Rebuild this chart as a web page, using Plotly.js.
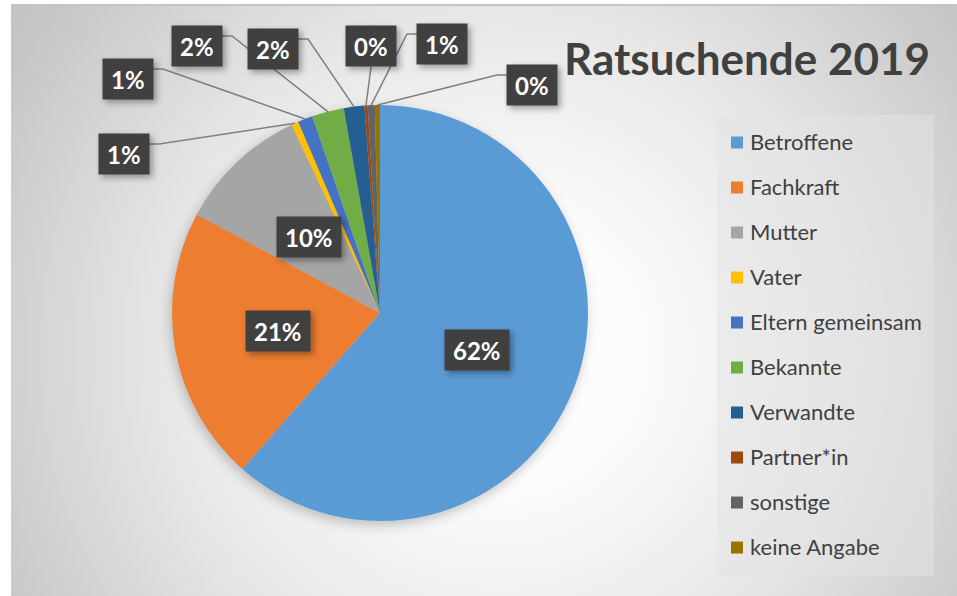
<!DOCTYPE html>
<html><head><meta charset="utf-8">
<script src="https://cdn.plot.ly/plotly-3.0.1.min.js"></script>
<style>
html,body{margin:0;padding:0;background:#fff;width:957px;height:596px;overflow:hidden}
#bg{position:absolute;left:11px;top:4px;width:946px;height:592px;box-sizing:border-box;border-top:2px solid #c4c4c4;
background:radial-gradient(circle at 489px 346px,#ffffff 0px,#fbfbfb 140px,#e8e8e8 330px,#d2d2d2 480px,#c6c6c6 560px,#bdbdbd 680px);}
#chart{position:absolute;left:0;top:0;width:957px;height:596px}
.legendtext{transform:translate(-7px,-5px)}
.annotation .bg{filter:drop-shadow(3px 3px 3px rgba(0,0,0,0.35))}
.pielayer{filter:drop-shadow(-2px 4px 6px rgba(0,0,0,0.22))}
</style></head><body>
<div id="bg"></div><div id="chart"></div>
<script>
// ---- data ----
const categories = ['Betroffene','Fachkraft','Mutter','Vater','Eltern gemeinsam','Bekannte','Verwandte','Partner*in','sonstige','keine Angabe'];
const shares = [61.7, 21.4, 10.2, 0.55, 1.15, 2.5, 1.6, 0.25, 0.55, 0.4];
const colors = ['#5B9BD5','#ED7D31','#A5A5A5','#FFC000','#4472C4','#70AD47','#255E91','#9E480E','#636363','#997300'];
const chartTitle = 'Ratsuchende 2019';

// ---- layout constants (pixels) ----
const W = 957, H = 596, CX = 380, CY = 313, R = 208;
// positions of the outside label boxes (centre, px) and the side the leader leaves from
const outsideLabels = {
  3: {x: 124, y: 154, side: 'r'},
  4: {x: 128, y: 79,  side: 'r'},
  5: {x: 197, y: 46,  side: 'r'},
  6: {x: 273, y: 49,  side: 'r'},
  7: {x: 371, y: 46,  side: 'b'},
  8: {x: 442, y: 44,  side: 'l'},
  9: {x: 532, y: 85,  side: 'l'}
};
const FONT = 'Lato, "Open Sans", sans-serif';

const px = x => x / W;
const py = y => 1 - y / H;

const total = shares.reduce((a, b) => a + b, 0);
let cum = 0;
const mids = shares.map(v => { const m = (cum + v / 2) / total; cum += v; return m * 2 * Math.PI; });
const pctText = shares.map(v => Math.round(v / total * 100) + '%');

const annotations = [];
const shapes = [];
const boxStyle = {
  xref: 'paper', yref: 'paper', xanchor: 'center', yanchor: 'middle', showarrow: false,
  font: {family: FONT, size: 24, color: '#ffffff', weight: 'bold'},
  bgcolor: '#404040', borderpad: 8, height: 24
};
shares.forEach((v, i) => {
  const a = mids[i];
  const o = outsideLabels[i];
  if (!o) {
    const lx = CX + 0.5 * R * Math.sin(a), ly = CY - 0.5 * R * Math.cos(a);
    annotations.push(Object.assign({}, boxStyle, {x: px(lx), y: py(ly), text: pctText[i]}));
  } else {
    annotations.push(Object.assign({}, boxStyle, {x: px(o.x), y: py(o.y), text: pctText[i]}));
    const ex = CX + R * Math.sin(a), ey = CY - R * Math.cos(a);
    let pts;
    if (o.side === 'r') pts = [[o.x + 25, o.y - 10], [o.x + 35, o.y - 10], [ex, ey]];
    else if (o.side === 'l') pts = [[o.x - 25, o.y - 10], [o.x - 35, o.y - 10], [ex, ey]];
    else pts = [[o.x, o.y + 21], [ex, ey]];
    const path = pts.map((p, k) => (k ? 'L' : 'M') + px(p[0]).toFixed(5) + ',' + py(p[1]).toFixed(5)).join(' ');
    shapes.push({type: 'path', xref: 'paper', yref: 'paper', path: path, line: {color: '#7f7f7f', width: 1.5}});
  }
});

const trace = {
  type: 'pie',
  labels: categories.map(c => '<span style="font-size:22px">' + c + '</span>'),
  values: shares,
  sort: false,
  direction: 'clockwise',
  rotation: 0,
  marker: {colors: colors, line: {width: 0}},
  textinfo: 'none',
  hoverinfo: 'label+percent',
  domain: {x: [px(CX - R), px(CX + R)], y: [py(CY + R), py(CY - R)]}
};

const layout = {
  width: W, height: H,
  margin: {l: 0, r: 0, t: 0, b: 0},
  paper_bgcolor: 'rgba(0,0,0,0)',
  plot_bgcolor: 'rgba(0,0,0,0)',
  font: {family: FONT, color: '#404040'},
  title: {
    text: chartTitle, xref: 'container', yref: 'container',
    x: px(564), xanchor: 'left', y: py(44.2), yanchor: 'top',
    font: {family: FONT, size: 44, color: '#404040', weight: 'bold'}
  },
  showlegend: true,
  legend: {
    x: px(717), xanchor: 'left', y: py(115), yanchor: 'top',
    bgcolor: 'rgba(228,228,228,0.5)', borderwidth: 0,
    font: {family: FONT, size: 32.31, color: '#404040'},
    traceorder: 'normal'
  },
  annotations: annotations,
  shapes: shapes
};

Plotly.newPlot('chart', [trace], layout, {displayModeBar: false, staticPlot: true});
</script>
</body></html>
